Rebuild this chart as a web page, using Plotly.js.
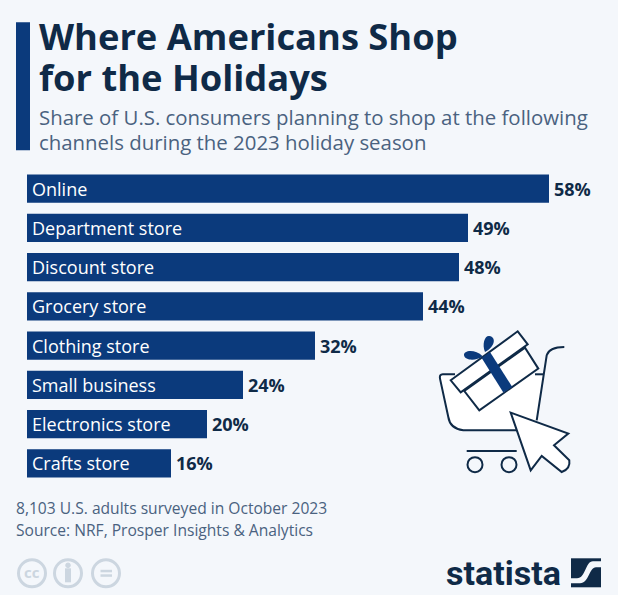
<!DOCTYPE html>
<html>
<head>
<meta charset="utf-8">
<script src="https://cdn.plot.ly/plotly-3.0.1.min.js"></script>
<style>
  html, body { margin: 0; padding: 0; background: #f4f7fb; }
</style>
</head>
<body>
<div id="chart" style="width:618px;height:595px"></div>
<script>
// Data

const categories = [
  "Online",
  "Department store",
  "Discount store",
  "Grocery store",
  "Clothing store",
  "Small business",
  "Electronics store",
  "Crafts store",
];
const shares = [58, 49, 48, 44, 32, 24, 20, 16];

const titleLines = ["Where Americans Shop", "for the Holidays"];
const subtitleLines = [
  "Share of U.S. consumers planning to shop at the following",
  "channels during the 2023 holiday season",
];
const footLines = [
  "8,103 U.S. adults surveyed in October 2023",
  "Source: NRF, Prosper Insights & Analytics",
];

// Layout helpers (pixels to paper fractions)

const W = 618;
const H = 595;
const M = { l: 27, r: 6, t: 168.7, b: 112.3 };
const plotW = W - M.l - M.r;
const plotH = H - M.t - M.b;

const BG = "#f4f7fb";
const BLUE = "#0b3a7c";
const DARK = "#0f2a47";
const GREY = "#4a6280";
const PALE = "#ccd6e0";

const px = (x) => (x - M.l) / plotW;
const py = (y) => 1 - (y - M.t) / plotH;

const paperPath = (d) =>
  d.replace(/(-?[\d.]+),(-?[\d.]+)/g, (m, x, y) => `${px(+x)},${py(+y)}`);

const pathShape = function (d, fill, stroke, width) {
  return {
    type: "path",
    xref: "paper",
    yref: "paper",
    path: paperPath(d),
    fillcolor: fill || "rgba(0,0,0,0)",
    line: { color: stroke || "rgba(0,0,0,0)", width: width || 0 },
    layer: "above",
  };
};

const circleShape = function (cx, cy, r, fill, stroke, width) {
  return {
    type: "circle",
    xref: "paper",
    yref: "paper",
    x0: px(cx - r),
    x1: px(cx + r),
    y0: py(cy + r),
    y1: py(cy - r),
    fillcolor: fill || "rgba(0,0,0,0)",
    line: { color: stroke, width: width || 0 },
    layer: "above",
  };
};

const label = function (text, x, y, size, color, weight, family) {
  return {
    text: text,
    xref: "paper",
    yref: "paper",
    x: px(x),
    y: py(y),
    xanchor: "left",
    yanchor: "middle",
    showarrow: false,
    borderpad: 0,
    borderwidth: 0,
    font: {
      size: size,
      color: color,
      weight: weight || 400,
      family: family || "Open Sans",
    },
  };
};

// Icon position: zoomed coordinates are 3x around (420,320)
const ic = (zx, zy) => `${(420 + zx / 3).toFixed(1)},${(320 + zy / 3).toFixed(1)}`;

const LINE = 2;

const iconShapes = [
  // Cart
  pathShape(`M${ic(60, 162)} L${ic(370, 162)} L${ic(345, 330)} L${ic(130, 330)} Q${ic(90, 325)} ${ic(85, 290)} Z`, "#ffffff"),
  pathShape(`M${ic(105, 162)} L${ic(68, 162)} Q${ic(58, 162)} ${ic(60, 175)} L${ic(85, 290)} Q${ic(90, 325)} ${ic(130, 330)} L${ic(290, 330)}`, null, DARK, LINE),
  pathShape(`M${ic(350, 300)} L${ic(380, 105)} Q${ic(388, 80)} ${ic(433, 80)}`, null, DARK, LINE),
  pathShape(`M${ic(345, 162)} L${ic(372, 162)}`, null, DARK, LINE),
  pathShape(`M${ic(140, 392)} L${ic(290, 392)}`, null, DARK, LINE),
  circleShape(420 + 165 / 3, 320 + 433 / 3, 7.5, "rgba(0,0,0,0)", DARK, LINE),
  circleShape(420 + 267 / 3, 320 + 433 / 3, 7.5, "rgba(0,0,0,0)", DARK, LINE),
  // Gift
  pathShape(`M${ic(133, 212)} L${ic(315, 82)} L${ic(355, 145)} L${ic(178, 270)} Z`, "#ffffff", DARK, LINE),
  pathShape(`M${ic(92, 180)} L${ic(293, 33)} L${ic(323, 72)} L${ic(122, 216)} Z`, "#ffffff", DARK, LINE),
  pathShape(`M${ic(185, 113)} L${ic(210, 95)} L${ic(277, 200)} L${ic(250, 217)} Z`, BLUE),
  pathShape(`M${ic(188, 108)} C${ic(165, 85)} ${ic(130, 90)} ${ic(132, 105)} C${ic(135, 122)} ${ic(170, 122)} ${ic(188, 108)} Z`, BLUE),
  pathShape(`M${ic(195, 95)} C${ic(185, 70)} ${ic(195, 45)} ${ic(208, 47)} C${ic(230, 50)} ${ic(225, 80)} ${ic(195, 95)} Z`, BLUE),
  // Pointer
  pathShape(`M${ic(272, 277)} L${ic(445, 340)} L${ic(402, 375)} L${ic(448, 420)} Q${ic(452, 445)} ${ic(425, 455)} L${ic(365, 407)} L${ic(332, 450)} Z`, "#ffffff", DARK, LINE),
];

const licenceShapes = [
  circleShape(32, 573, 13.5, "rgba(0,0,0,0)", PALE, 3),
  circleShape(68, 573, 13.5, "rgba(0,0,0,0)", PALE, 3),
  circleShape(106, 573, 13.5, "rgba(0,0,0,0)", PALE, 3),
  circleShape(68, 565, 2.3, PALE, PALE, 1),
  pathShape("M65,568 L71,568 L71,582 L65,582 Z", PALE),
  pathShape("M100.5,569.5 L112,569.5 L112,572 L100.5,572 Z", PALE),
  pathShape("M100.5,574 L112,574 L112,576.5 L100.5,576.5 Z", PALE),
];

const logoShapes = [
  pathShape("M571,558 L601,558 L601,587 L571,587 Z", DARK),
  pathShape(
    "M601,561 L593,561 C585,561 586,578 577,578 L571,578 L571,583 L580,583 C589,583 589,567 596,567 L601,567 Z",
    BG
  ),
];

// Chart

const drawChart = function () {
  const data = [
    {
      type: "bar",
      orientation: "h",
      y: categories,
      x: shares,
      width: 0.725,
      marker: { color: BLUE },
      hoverinfo: "skip",
    },
  ];

  const categoryLabels = categories.map((c) => ({
    text: c,
    xref: "x",
    yref: "y",
    x: 0,
    y: c,
    xshift: 5,
    xanchor: "left",
    yanchor: "middle",
    showarrow: false,
    borderpad: 0,
    borderwidth: 0,
    font: { family: "Open Sans", size: 18, color: "#ffffff" },
  }));

  const valueLabels = categories.map((c, i) => ({
    text: `${shares[i]}%`,
    xref: "x",
    yref: "y",
    x: shares[i],
    y: c,
    xshift: 5,
    xanchor: "left",
    yanchor: "middle",
    showarrow: false,
    borderpad: 0,
    borderwidth: 0,
    font: { family: "Open Sans", size: 18, color: DARK, weight: 700 },
  }));

  const layout = {
    width: W,
    height: H,
    margin: M,
    paper_bgcolor: BG,
    plot_bgcolor: BG,
    showlegend: false,
    font: { family: "Open Sans" },
    xaxis: {
      range: [0, plotW / 9],
      visible: false,
      fixedrange: true,
    },
    yaxis: {
      type: "category",
      categoryorder: "array",
      categoryarray: categories,
      autorange: "reversed",
      visible: false,
      fixedrange: true,
    },
    shapes: [
      pathShape("M16,22 L30,22 L30,150 L16,150 Z", BLUE),
      ...iconShapes,
      ...licenceShapes,
      ...logoShapes,
    ],
    annotations: [
      ...categoryLabels,
      ...valueLabels,
      label(titleLines[0], 39, 36, 36.3, DARK, 700),
      label(titleLines[1], 39, 77, 36.3, DARK, 700),
      label(subtitleLines[0], 39, 117, 20.4, GREY),
      label(subtitleLines[1], 39, 142, 20.4, GREY),
      label(footLines[0], 16, 508, 15.6, GREY),
      label(footLines[1], 16, 530, 15.6, GREY),
      label("cc", 23.5, 572, 15, PALE, 700),
      label("statista", 446, 573, 34, DARK, 700, "Roboto"),
    ],
  };

  Plotly.newPlot("chart", data, layout, {
    displayModeBar: false,
    responsive: false,
  });
};

drawChart();
</script>
</body>
</html>
